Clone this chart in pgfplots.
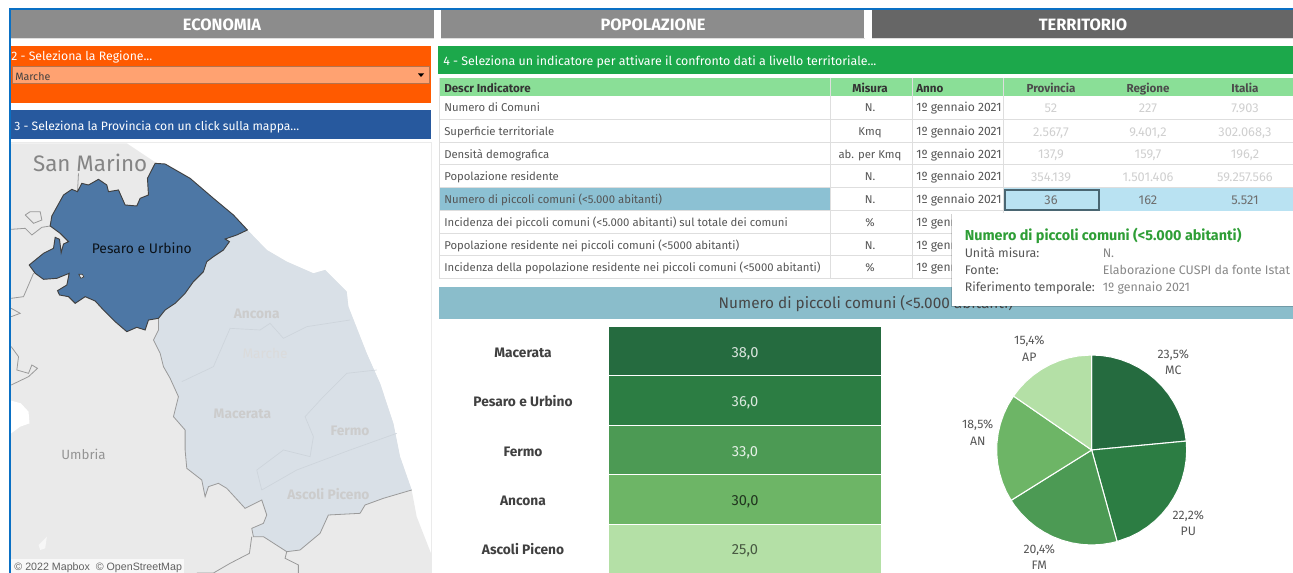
\documentclass[border=0pt]{standalone}
\usepackage{fontspec}
\setmainfont{Fira Sans}
\newfontfamily\mapfont{Liberation Sans}
\usepackage{pgfplots}
\pgfplotsset{compat=1.18}

\definecolor{frame}{HTML}{0A70C4}
\definecolor{tabA}{HTML}{8C8C8C}
\definecolor{tabB}{HTML}{666666}
\definecolor{orange}{HTML}{FF5A00}
\definecolor{drop}{HTML}{FFA271}
\definecolor{dropline}{HTML}{B5724C}
\definecolor{bluebar}{HTML}{27599E}
\definecolor{greenbar}{HTML}{1CA84B}
\definecolor{headgreen}{HTML}{8ADF97}
\definecolor{rowline}{HTML}{DEDEDE}
\definecolor{selrow}{HTML}{8CC1D3}
\definecolor{selcell}{HTML}{B9E2F2}
\definecolor{selbox}{HTML}{4A6672}
\definecolor{band}{HTML}{8ABDCB}
\definecolor{txt}{HTML}{555555}
\definecolor{faint}{HTML}{CFCFCF}
\definecolor{ttgreen}{HTML}{2E9E36}
\definecolor{gA}{HTML}{256B3F}
\definecolor{gB}{HTML}{2C7D43}
\definecolor{gC}{HTML}{4C9A54}
\definecolor{gD}{HTML}{6DB566}
\definecolor{gE}{HTML}{B4E0A6}
\definecolor{land}{HTML}{EAEAEA}
\definecolor{marche}{HTML}{D9E0E7}
\definecolor{pesaro}{HTML}{4D77A5}
\definecolor{mapline}{HTML}{9A9A9A}
\definecolor{provline}{HTML}{CDD4DB}

% rectangle in picture pixels
\newcommand\R[5]{\addplot[fill=#5,draw=none] coordinates {(#1,#2)(#3,#2)(#3,#4)(#1,#4)} --cycle;}
% text: anchor, x, y, size in pt, colour, text
\newcommand\T[6]{\node[anchor=#1,inner sep=0pt,yshift=-0.9pt,text=#5,font=\fontsize{#4}{#4}\selectfont] at (#2,#3) {#6};}

\begin{document}
\begin{tikzpicture}
\path[use as bounding box] (0pt,0pt) rectangle (969.75pt,429.75pt);

\begin{axis}[
    at={(0pt,0pt)},anchor=south west,
    scale only axis,width=969.75pt,height=429.75pt,
    xmin=0,xmax=1293,ymin=0,ymax=573,
    y dir=reverse,hide axis,clip=false,
]
% frame
\R{9.3}{8}{1293}{10}{frame}
\R{9.3}{8}{11.2}{573}{frame}
% tabs
\R{11}{10}{433.5}{38.5}{tabA}
\R{441}{10}{864}{38.5}{tabA}
\R{872.3}{10}{1293}{38.5}{tabB}
\R{11}{38.5}{434}{39.3}{rowline}
\R{441}{38.5}{864.5}{39.3}{rowline}
\R{872.3}{38.5}{1293}{39.3}{rowline}
\T{mid}{222}{25.8}{12.3}{white}{\bfseries ECONOMIA}
\T{mid}{653}{25.8}{12.3}{white}{\bfseries POPOLAZIONE}
\T{mid}{1083}{25.8}{12.3}{white}{\bfseries TERRITORIO}
% region filter
\R{11}{46}{431}{103}{orange}
\T{mid west}{11}{55.5}{9.2}{white}{2 - Seleziona la Regione...}
\R{11.5}{66}{430}{84.5}{dropline}
\R{12.5}{67}{429}{83.5}{drop}
\T{mid west}{15}{76}{8}{black!75}{Marche}
\addplot[fill=black,draw=none] coordinates {(418,73.5)(424,73.5)(421,77)} --cycle;
% province bar
\R{11}{110.5}{431}{139}{bluebar}
\T{mid west}{14}{125.5}{9.1}{white}{3 - Seleziona la Provincia con un click sulla mappa...}
\R{11}{142}{431.5}{142.8}{rowline!60}
\R{430.8}{142}{431.5}{573}{rowline!60}
% green bar
\R{438}{46}{1293}{74}{greenbar}
\T{mid west}{443}{61}{9.3}{white}{4 - Seleziona un indicatore per attivare il confronto dati a livello territoriale...}
% table head
\R{439}{78}{1293}{96.5}{headgreen}
\T{mid west}{444}{88}{8.7}{black!80}{\bfseries Descr Indicatore}
\T{mid}{870}{88}{8.7}{black!80}{\bfseries Misura}
\T{mid west}{916}{88}{8.7}{black!80}{\bfseries Anno}
\T{mid}{1051}{87.5}{8.7}{black!70}{\bfseries Provincia}
\T{mid}{1148}{87.5}{8.7}{black!70}{\bfseries Regione}
\T{mid}{1245}{87.5}{8.7}{black!70}{\bfseries Italia}
% selected row
\R{439}{188}{829.5}{210.7}{selrow}
\R{1003}{188}{1293}{211}{selcell}
% table lines
\R{439}{119}{1293}{120}{rowline}
\R{439}{142}{1293}{143}{rowline}
\R{439}{164}{1293}{165}{rowline}
\R{439}{187}{1293}{188}{rowline}
\R{439}{210.5}{1003}{211.5}{rowline}
\R{439}{233}{1003}{234}{rowline}
\R{439}{255.5}{1003}{256.5}{rowline}
\R{439}{278}{1003}{279}{rowline}
\R{438.5}{78}{439.5}{279}{rowline}
\R{829.5}{78}{830.5}{279}{rowline}
\R{911.5}{78}{912.5}{279}{rowline}
\R{1002.5}{78}{1003.5}{279}{rowline}
% selected cell
\addplot[draw=selbox,line width=1pt] coordinates {(1005,190)(1099,190)(1099,210)(1005,210)} --cycle;
% table rows
\T{mid west}{444}{107}{8.5}{txt}{Numero di Comuni}
\T{mid west}{444}{131}{8.5}{txt}{Superficie territoriale}
\T{mid west}{444}{153.5}{8.5}{txt}{Densità demografica}
\T{mid west}{444}{176}{8.5}{txt}{Popolazione residente}
\T{mid west}{444}{199}{8.5}{txt}{Numero di piccoli comuni (<5.000 abitanti)}
\T{mid west}{444}{222}{8.5}{txt}{Incidenza dei piccoli comuni (<5.000 abitanti) sul totale dei comuni}
\T{mid west}{444}{245}{8.5}{txt}{Popolazione residente nei piccoli comuni (<5000 abitanti)}
\T{mid west}{444}{267}{8.5}{txt}{Incidenza della popolazione residente nei piccoli comuni (<5000 abitanti)}
\T{mid}{870}{107}{8.5}{txt}{N.}
\T{mid}{870}{131}{8.5}{txt}{Kmq}
\T{mid}{870}{153.5}{8.5}{txt}{ab. per Kmq}
\T{mid}{870}{176}{8.5}{txt}{N.}
\T{mid}{870}{199}{8.5}{txt}{N.}
\T{mid}{870}{222}{8.5}{txt}{\%}
\T{mid}{870}{245}{8.5}{txt}{N.}
\T{mid}{870}{267}{8.5}{txt}{\%}
\T{mid west}{916}{107}{9.1}{txt}{1º gennaio 2021}
\T{mid west}{916}{131}{9.1}{txt}{1º gennaio 2021}
\T{mid west}{916}{153.5}{9.1}{txt}{1º gennaio 2021}
\T{mid west}{916}{176}{9.1}{txt}{1º gennaio 2021}
\T{mid west}{916}{199}{9.1}{txt}{1º gennaio 2021}
% the tooltip hides the rest of these three dates
\T{mid west}{916}{222}{9.1}{txt}{1º genn}
\T{mid west}{916}{245}{9.1}{txt}{1º genn}
\T{mid west}{916}{267}{9.1}{txt}{1º genn}
\T{mid}{1051}{108}{9.6}{faint}{52}
\T{mid}{1148}{108}{9.6}{faint}{227}
\T{mid}{1245}{108}{9.6}{faint}{7.903}
\T{mid}{1051}{131.5}{9.6}{faint}{2.567,7}
\T{mid}{1148}{131.5}{9.6}{faint}{9.401,2}
\T{mid}{1245}{131.5}{9.6}{faint}{302.068,3}
\T{mid}{1051}{154}{9.6}{faint}{137,9}
\T{mid}{1148}{154}{9.6}{faint}{159,7}
\T{mid}{1245}{154}{9.6}{faint}{196,2}
\T{mid}{1051}{177}{9.6}{faint}{354.139}
\T{mid}{1148}{177}{9.6}{faint}{1.501.406}
\T{mid}{1245}{177}{9.6}{faint}{59.257.566}
\T{mid}{1051}{200}{9.6}{txt!85}{36}
\T{mid}{1148}{200}{9.6}{txt!85}{162}
\T{mid}{1245}{200}{9.6}{txt!85}{5.521}
% section band
\R{438.5}{287}{1293}{319}{band}
\T{mid}{866}{304}{11.5}{black!72}{Numero di piccoli comuni (<5.000 abitanti)}
% tooltip
\addplot[fill=black,fill opacity=0.18,draw=none] coordinates {(951,214)(1293,214)(1293,307.5)(951,307.5)} --cycle;
\R{952.3}{213}{1293}{305.7}{white}
\T{mid west}{964.5}{236.2}{10.8}{ttgreen}{\bfseries Numero di piccoli comuni (<5.000 abitanti)}
\T{mid west}{964.5}{253}{9.3}{txt}{Unità misura:}
\T{mid west}{964.5}{270}{9.3}{txt}{Fonte:}
\T{mid west}{964.5}{287}{9.3}{txt}{Riferimento temporale:}
\T{mid west}{1102.5}{253}{9.3}{txt!70}{N.}
\T{mid west}{1102.5}{270}{9.3}{txt!70}{Elaborazione CUSPI da fonte Istat}
\T{mid west}{1102.5}{287}{9.3}{txt!70}{1º gennaio 2021}
% heat table
\R{609}{327.5}{881}{375.5}{gA}
\R{609}{376.5}{881}{425.5}{gB}
\R{609}{426.5}{881}{474.5}{gC}
\R{609}{475.5}{881}{524.2}{gD}
\R{609}{525.2}{881}{573}{gE}
\T{mid}{523}{352.5}{10.3}{black!75}{\bfseries Macerata}
\T{mid}{523}{402}{10.3}{black!75}{\bfseries Pesaro e Urbino}
\T{mid}{523}{451.5}{10.3}{black!75}{\bfseries Fermo}
\T{mid}{523}{500.5}{10.3}{black!75}{\bfseries Ancona}
\T{mid}{523}{549.5}{10.3}{black!75}{\bfseries Ascoli Piceno}
\T{mid}{745}{352.5}{11}{white!82!gA}{38,0}
\T{mid}{745}{402}{11}{white!82!gB}{36,0}
\T{mid}{745}{451.5}{11}{white!85!gC}{33,0}
\T{mid}{745}{500.5}{11}{black!70!gD}{30,0}
\T{mid}{745}{549.5}{11}{black!60!gE}{25,0}
% pie labels
\T{mid}{1029.3}{340}{9.2}{txt}{15,4\%}
\T{mid}{1029.3}{356.7}{9.2}{txt}{AP}
\T{mid}{1173.3}{353.3}{9.2}{txt}{23,5\%}
\T{mid}{1173.3}{370}{9.2}{txt}{MC}
\T{mid}{1188.3}{514.3}{9.2}{txt}{22,2\%}
\T{mid}{1188.3}{531}{9.2}{txt}{PU}
\T{mid}{1039.3}{548.3}{9.2}{txt}{20,4\%}
\T{mid}{1039.3}{565}{9.2}{txt}{FM}
\T{mid}{977.7}{424}{9.2}{txt}{18,5\%}
\T{mid}{977.7}{440.7}{9.2}{txt}{AN}
\end{axis}

% map
\begin{axis}[
    at={(8.4pt,0pt)},anchor=south west,
    scale only axis,width=314.85pt,height=322.25pt,
    xmin=33,xmax=1293,ymin=10,ymax=1299,
    y dir=reverse,hide axis,
]
\addplot[fill=land,draw=none] coordinates {(33,10)(380,10)(470,70)(570,115)(742,270)(800,330)(860,365)(940,400)(975,390)(1040,455)(1045,500)(1100,640)(1140,730)(1180,850)(1200,950)(1235,1050)(1250,1130)(1293,1240)(1293,1299)(33,1299)} --cycle;
\addplot[fill=white,draw=none] coordinates {(33,782)(62,790)(85,815)(88,850)(60,860)(33,880)} --cycle;
\addplot[fill=white!60!land,draw=none] coordinates {(115,1215)(140,1190)(135,1225)(120,1230)} --cycle;
% other regions' borders
\addplot[draw=mapline,line width=0.6pt] coordinates {(33,268)(75,265)(95,285)(125,262)(150,258)};
\addplot[draw=mapline,line width=0.6pt] coordinates {(75,225)(90,215)(120,215)(125,240)(100,250)(75,225)};
\addplot[draw=mapline,line width=0.6pt] coordinates {(100,400)(70,470)(33,475)};
\addplot[draw=mapline,line width=0.6pt] coordinates {(33,505)(60,520)(33,530)};
\addplot[draw=mapline,line width=0.6pt] coordinates {(33,620)(55,650)(50,690)(85,700)(95,675)(112,685)(85,710)(33,735)};
\addplot[draw=mapline,line width=0.6pt] coordinates {(232,155)(235,100)};
\addplot[draw=mapline,line width=0.6pt] coordinates {(860,1235)(855,1255)(895,1275)(895,1299)};
\addplot[draw=mapline,line width=0.6pt] coordinates {(755,1190)(748,1240)(690,1270)(640,1299)(590,1299)};
% rest of the region
\addplot[fill=marche,draw=none] coordinates {(742,270)(800,330)(860,365)(940,400)(975,390)(1040,455)(1045,500)(1100,640)(1140,730)(1180,850)(1200,950)(1235,1050)(1150,1075)(1095,1095)(1080,1120)(985,1125)(960,1180)(900,1230)(860,1235)(790,1190)(760,1190)(755,1165)(790,1150)(800,1125)(785,1080)(735,1105)(680,1045)(655,1030)(625,1040)(615,1070)(605,1020)(560,985)(555,930)(555,870)(520,830)(535,770)(510,715)(490,680)(480,640)(460,600)(475,570)(475,535)(495,510)(525,490)(555,460)(580,425)(610,395)(620,365)(670,330)(688,305)(675,297)(710,285)} --cycle;
\addplot[draw=mapline,line width=0.6pt] coordinates {(1235,1050)(1150,1075)(1095,1095)(1080,1120)(985,1125)(960,1180)(900,1230)(860,1235)(790,1190)(760,1190)(755,1165)(790,1150)(800,1125)(785,1080)(735,1105)(680,1045)(655,1030)(625,1040)(615,1070)(605,1020)(560,985)(555,930)(555,870)(520,830)(535,770)(510,715)(490,680)(480,640)(460,600)(475,570)(475,535)};
% province borders
\addplot[draw=provline,line width=0.5pt] coordinates {(545,725)(640,680)(690,565)(780,570)(810,550)(850,595)(920,560)(1050,540)};
\addplot[draw=provline,line width=0.5pt] coordinates {(1130,690)(1040,700)(970,770)(915,830)(940,890)(930,950)(850,930)(770,990)(785,1050)};
\addplot[draw=provline,line width=0.5pt] coordinates {(785,1050)(890,990)(1050,930)(1190,880)};
% selected province
\addplot[fill=pesaro,draw=black!75,line width=0.7pt] coordinates {(465,70)(495,72)(570,115)(640,175)(700,225)(742,270)(710,285)(675,297)(688,305)(670,330)(640,350)(620,365)(610,395)(580,425)(555,460)(525,490)(495,510)(475,535)(445,540)(435,570)(410,562)(380,575)(345,545)(310,510)(285,483)(255,470)(225,490)(205,470)(178,465)(172,452)(200,435)(207,400)(170,415)(130,418)(105,400)(87,375)(130,340)(160,325)(165,292)(178,298)(183,338)(190,312)(205,305)(180,280)(150,258)(155,228)(190,165)(215,148)(232,155)(245,130)(265,135)(295,118)(320,135)(325,155)(355,150)(375,195)(410,198)(420,175)(445,165)(442,115)} --cycle;
\addplot[fill=land,draw=black!75,line width=0.5pt] coordinates {(236,403)(247,403)(251,411)(242,415)} --cycle;
% attribution
\addplot[fill=white,fill opacity=0.7,draw=none] coordinates {(33,1258)(552,1258)(552,1299)(33,1299)} --cycle;
% map labels
\T{mid}{270}{80}{16.8}{black!48}{San Marino}
\T{mid}{250}{945}{10}{black!42}{Umbria}
\T{mid}{425}{325}{10.4}{black!85!pesaro}{Pesaro e Urbino}
\T{mid}{770}{520}{10.3}{black!20}{\bfseries Ancona}
\T{mid}{795}{640}{10.3}{black!14}{Marche}
\T{mid}{727}{820}{10.3}{black!20}{\bfseries Macerata}
\T{mid}{1050}{872}{10.3}{black!20}{\bfseries Fermo}
\T{mid}{985}{1063}{10.3}{black!20}{\bfseries Ascoli Piceno}
\T{mid west}{42}{1278}{8}{black!62}{\mapfont © 2022 Mapbox \ © OpenStreetMap}
\end{axis}

% pie: share of the small municipalities, clockwise from the top
\begin{axis}[
    at={(818.75pt,92.25pt)},anchor=center,
    scale only axis,width=171pt,height=171pt,
    xmin=-1.2,xmax=1.2,ymin=-1.2,ymax=1.2,
    hide axis,
]
\addplot[fill=gA,draw=white,line width=0.8pt,data cs=polar] coordinates {(0,0)(90,1)(84,1)(78,1)(72,1)(66,1)(60,1)(54,1)(48,1)(42,1)(36,1)(30,1)(24,1)(18,1)(12,1)(5.4,1)} --cycle;
\addplot[fill=gB,draw=white,line width=0.8pt,data cs=polar] coordinates {(0,0)(5.4,1)(0,1)(-6,1)(-12,1)(-18,1)(-24,1)(-30,1)(-36,1)(-42,1)(-48,1)(-54,1)(-60,1)(-66,1)(-74.5,1)} --cycle;
\addplot[fill=gC,draw=white,line width=0.8pt,data cs=polar] coordinates {(0,0)(-74.5,1)(-78,1)(-84,1)(-90,1)(-96,1)(-102,1)(-108,1)(-114,1)(-120,1)(-126,1)(-132,1)(-138,1)(-144,1)(-148,1)} --cycle;
\addplot[fill=gD,draw=white,line width=0.8pt,data cs=polar] coordinates {(0,0)(-148,1)(-154,1)(-160,1)(-166,1)(-172,1)(-178,1)(-184,1)(-190,1)(-196,1)(-202,1)(-208,1)(-214.6,1)} --cycle;
\addplot[fill=gE,draw=white,line width=0.8pt,data cs=polar] coordinates {(0,0)(-214.6,1)(-220,1)(-226,1)(-232,1)(-238,1)(-244,1)(-250,1)(-256,1)(-262,1)(-270,1)} --cycle;
\end{axis}
\end{tikzpicture}
\end{document}
